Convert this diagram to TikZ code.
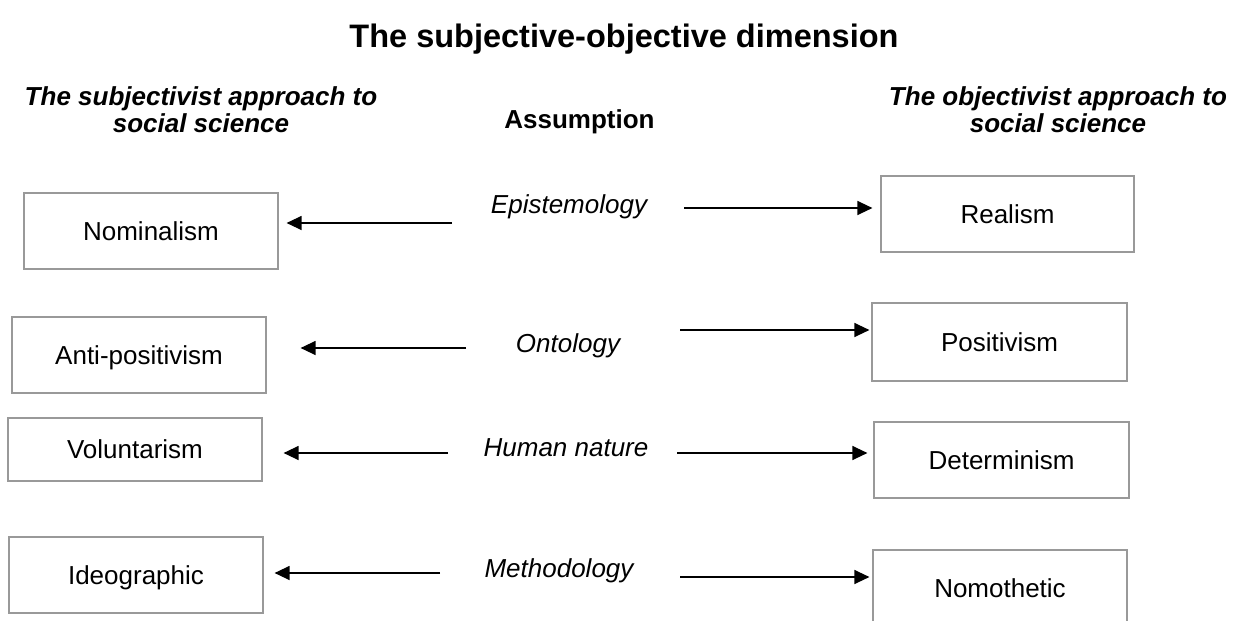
\documentclass[tikz,border=0pt]{standalone}
\usepackage{fontspec}
\setmainfont{Liberation Sans}
\usetikzlibrary{arrows.meta,calc}
\begin{document}
\begin{tikzpicture}[x=1pt,y=-1pt,
  every node/.style={inner sep=0pt, font=\fontsize{26}{27}\selectfont},
  optbox/.style={draw=black!40, line width=1.2pt, rectangle, text height=18.6pt, text depth=0pt},
  assume/.style={font=\fontsize{26}{27}\selectfont\itshape, anchor=base},
  head/.style={font=\fontsize{26}{27.5}\selectfont\bfseries\itshape, align=center},
  arr/.style={line width=1.3pt, -{Triangle[length=15pt,width=14pt]}}]
\useasboundingbox (0,0) rectangle (1248,621);
\clip (0,0) rectangle (1248,621);

% headings
\node[font=\fontsize{32.5}{34}\selectfont\bfseries, anchor=base] (title) at (624,47) {The subjective-objective dimension};
\node[head] (hsub) at (201,109.5) {The subjectivist approach to\\social science};
\node[head] (hobj) at (1058,109.5) {The objectivist approach to\\social science};
\node[font=\fontsize{26}{27}\selectfont\bfseries, anchor=base] (hass) at (579.5,128) {Assumption};

% middle column
\node[assume] (epi) at (569,213) {Epistemology};
\node[assume] (ont) at (568,352) {Ontology};
\node[assume] (hum) at (566,456) {Human nature};
\node[assume] (met) at (559,577) {Methodology};

% subjectivist boxes
\node[optbox, minimum width=254pt, minimum height=76pt] (nom) at (151,231) {Nominalism};
\node[optbox, minimum width=254pt, minimum height=76pt] (anti) at (139,355) {Anti-positivism};
\node[optbox, minimum width=254pt, minimum height=63pt] (vol) at (135,449.5) {Voluntarism};
\node[optbox, minimum width=254pt, minimum height=76pt] (ide) at (136,575) {Ideographic};

% objectivist boxes
\node[optbox, minimum width=253pt, minimum height=76pt] (rea) at (1007.5,214) {Realism};
\node[optbox, minimum width=255pt, minimum height=78pt] (pos) at (999.5,342) {Positivism};
\node[optbox, minimum width=255pt, minimum height=76pt] (det) at (1001.5,460) {Determinism};
\node[optbox, minimum width=254pt, minimum height=76pt] (nomo) at (1000,588) {Nomothetic};

% arrow tails
\coordinate (l1) at (452,223);
\coordinate (l2) at (466,348);
\coordinate (l3) at (448,453);
\coordinate (l4) at (440,573);
\coordinate (r1) at (684,208);
\coordinate (r2) at (680,330);
\coordinate (r3) at (677,453);
\coordinate (r4) at (680,577);

% arrows
\draw[arr] (l1) -- ($(nom.east |- l1)+(8,0)$);
\draw[arr] (l2) -- ($(anti.east |- l2)+(34,0)$);
\draw[arr] (l3) -- ($(vol.east |- l3)+(21,0)$);
\draw[arr] (l4) -- ($(ide.east |- l4)+(11,0)$);
\draw[arr] (r1) -- ($(rea.west |- r1)+(-8,0)$);
\draw[arr] (r2) -- ($(pos.west |- r2)+(-2,0)$);
\draw[arr] (r3) -- ($(det.west |- r3)+(-6,0)$);
\draw[arr] (r4) -- ($(nomo.west |- r4)+(-3,0)$);
\end{tikzpicture}
\end{document}
